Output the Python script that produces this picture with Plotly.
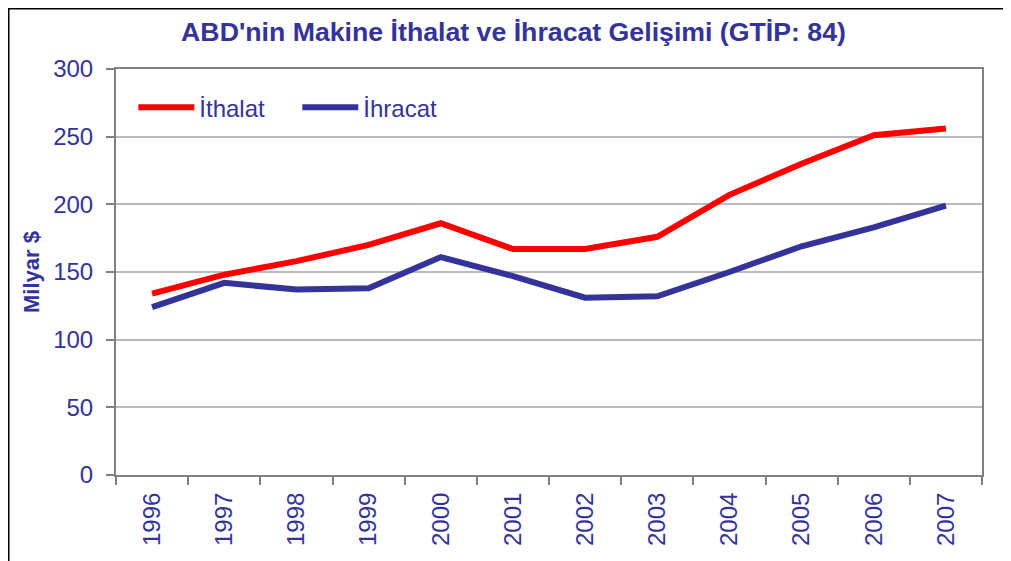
import plotly.graph_objects as go

years = ["1996", "1997", "1998", "1999", "2000", "2001", "2002", "2003", "2004", "2005", "2006", "2007"]
ithalat = [134, 148, 158, 170, 186, 167, 167, 176, 207, 230, 251, 256]
ihracat = [124, 142, 137, 138, 161, 147, 131, 132, 150, 169, 183, 199]
y_ticks = [0, 50, 100, 150, 200, 250, 300]

FONT = "Arial, Liberation Sans, sans-serif"
NAVY = "#333399"

fig = go.Figure()
fig.add_trace(go.Scatter(x=years, y=ithalat, mode="lines", name="İthalat",
                         line=dict(color="#FF0000", width=6)))
fig.add_trace(go.Scatter(x=years, y=ihracat, mode="lines", name="İhracat",
                         line=dict(color=NAVY, width=6)))

# page body has an 8px margin, so figure coordinates are shifted by -8
L, T, W, H = 108, 61, 866, 406
fig.update_layout(
    width=1011, height=561,
    margin=dict(l=L, r=1011 - L - W, t=T, b=561 - T - H, autoexpand=False),
    paper_bgcolor="white", plot_bgcolor="white",
    font=dict(family=FONT, color=NAVY),
    title=dict(text="<b>ABD'nin Makine İthalat ve İhracat Gelişimi (GTİP: 84)</b>",
               x=0.5, xanchor="center", y=0.957, yanchor="middle",
               font=dict(size=26.7, color=NAVY, family=FONT)),
    legend=dict(orientation="h", x=0.020, y=0.96, xanchor="left", yanchor="top",
                font=dict(size=24, color=NAVY), itemwidth=56, entrywidth=93,
                bgcolor="rgba(0,0,0,0)", traceorder="normal"),
    showlegend=True,
)

fig.update_xaxes(type="category", range=[-0.5, 11.5], tickangle=-90, automargin=False,
                 tickfont=dict(size=24, color=NAVY),
                 ticks="outside", tickson="boundaries", ticklen=8, tickwidth=2,
                 tickcolor="#808080", showline=True, linecolor="#808080", linewidth=2,
                 mirror=True, showgrid=False, ticklabelstandoff=6)
fig.update_yaxes(range=[0, 300], tickvals=y_ticks, automargin=False,
                 tickfont=dict(size=24, color=NAVY),
                 ticks="outside", ticklen=8, tickwidth=2, tickcolor="#808080",
                 showline=True, linecolor="#808080", linewidth=2, mirror=True,
                 showgrid=True, gridcolor="#BBBBBB", gridwidth=2, zeroline=False,
                 ticklabelstandoff=8,
                 title=dict(text="<b>Milyar $</b>", font=dict(size=22, color=NAVY), standoff=7))

fig.add_shape(type="rect", xref="paper", yref="paper",
              x0=-L / W, x1=1.3, y0=-0.5, y1=(T + H) / H,
              line=dict(color="black", width=3), fillcolor="rgba(0,0,0,0)", layer="above")

fig.write_html("out.html")
